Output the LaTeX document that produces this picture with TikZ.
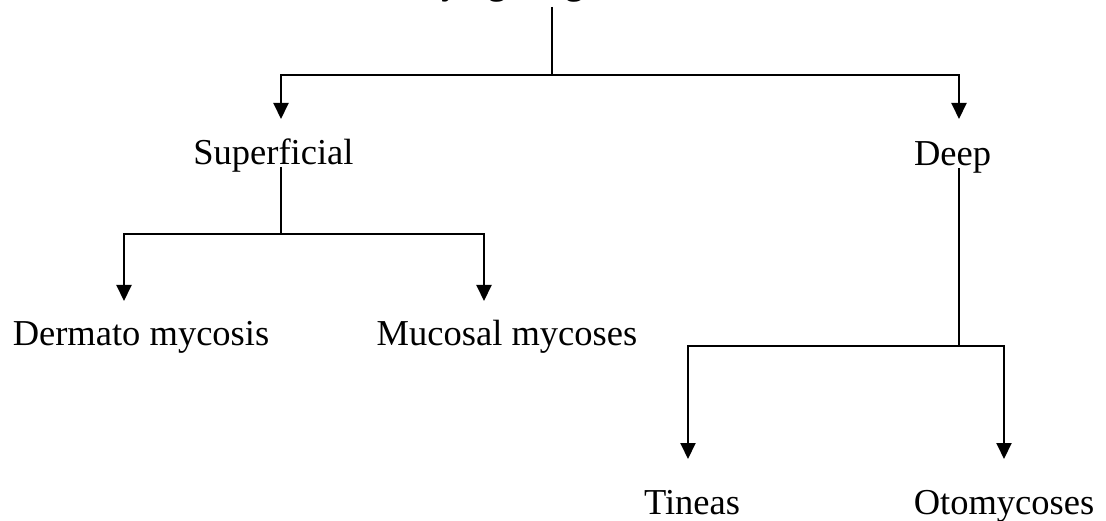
\documentclass[tikz,border=0pt]{standalone}
\usepackage{fontspec}
\setmainfont{Liberation Serif}
\usetikzlibrary{arrows.meta}
\begin{document}
\begin{tikzpicture}[x=1pt,y=-1pt,
  lbl/.style={font=\fontsize{36.5}{40}\selectfont, inner sep=0pt, anchor=base},
  conn/.style={line width=2pt},
  arr/.style={conn, -{Triangle[width=15pt,length=16pt]}}]
\useasboundingbox (0,0) rectangle (1106,521);
\node[lbl, font=\fontsize{35.2}{40}\selectfont\bfseries] (title) at (552,-5) {Classifying fungal infections};
\node[lbl] (sup) at (273.5,165) {Superficial};
\node[lbl] (deep) at (952.5,166) {Deep};
\node[lbl] (derm) at (141,345) {Dermato mycosis};
\node[lbl] (muc) at (507,345) {Mucosal mycoses};
\node[lbl] (tin) at (692,514) {Tineas};
\node[lbl] (oto) at (1004,514) {Otomycoses};
% junctions and connector ends
\coordinate (t0) at (552,7);
\coordinate (tj) at (552,75);
\coordinate (supIn) at (281,119);
\coordinate (deepIn) at (959,119);
\coordinate (supOut) at (281,167);
\coordinate (supJ) at (281,234);
\coordinate (dermIn) at (124,301);
\coordinate (mucIn) at (484,301);
\coordinate (deepOut) at (959,168);
\coordinate (deepJ) at (959,346);
\coordinate (tinIn) at (688,459);
\coordinate (otoIn) at (1004,459);
\draw[conn] (t0) -- (tj);
\draw[arr] (tj) -| (supIn);
\draw[arr] (tj) -| (deepIn);
\draw[conn] (supOut) -- (supJ);
\draw[arr] (supJ) -| (dermIn);
\draw[arr] (supJ) -| (mucIn);
\draw[conn] (deepOut) -- (deepJ);
\draw[arr] (deepJ) -| (tinIn);
\draw[arr] (deepJ) -| (otoIn);
\end{tikzpicture}
\end{document}
